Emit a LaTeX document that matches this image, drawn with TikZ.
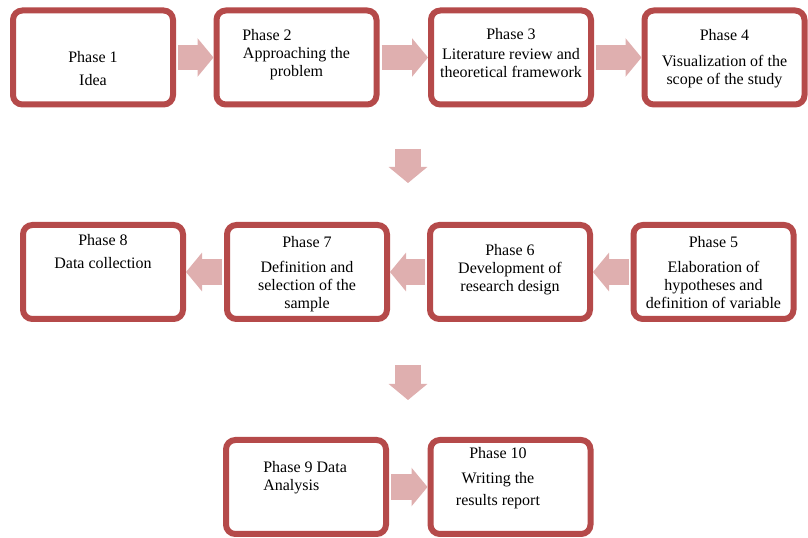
\documentclass[tikz,border=0pt]{standalone}
\usepackage{fontspec}
\setmainfont{Liberation Serif}
\usepackage{tikz}
\usetikzlibrary{arrows.meta}
\definecolor{phasered}{RGB}{181,74,74}
\definecolor{flowpink}{RGB}{223,175,175}
\tikzset{
  phase/.style={rectangle, draw=phasered, fill=white, line width=4.5pt,
    rounded corners=7pt, minimum width=120pt, minimum height=70.5pt, inner sep=0pt},
  phasetext/.style={anchor=north, align=center, inner sep=0pt,
    font=\fontsize{12}{13.5}\selectfont},
  flow/.style={draw=flowpink, line width=19pt,
    -{Triangle[length=12pt, width=29pt, line width=0pt]}, shorten <=1.5pt}
}

\begin{document}
\begin{tikzpicture}[x=0.75pt, y=-0.75pt]
  \useasboundingbox (0,0) rectangle (808,538);

  % Row 1: phases 1 to 4
  \node[phase] (p1) at (93,57.5) {};
  \node[phase] (p2) at (296.5,57.5) {};
  \node[phase] (p3) at (511,57.5) {};
  \node[phase] (p4) at (724.5,57.5) {};

  % Row 2: phases 5 to 8 (right to left)
  \node[phase] (p5) at (713.5,272) {};
  \node[phase] (p6) at (510,272) {};
  \node[phase] (p7) at (307,272) {};
  \node[phase] (p8) at (103,272) {};

  % Row 3: phases 9 and 10
  \node[phase] (p9) at (306,487) {};
  \node[phase] (p10) at (510.5,487) {};

  % Texts
  \node[phasetext] (t1) at ([yshift=4.9pt]p1.center) {Phase 1\\[3.75pt]Idea};
  \node[phasetext] (t2) at ([yshift=21.4pt]p2.center) {Phase 2\phantom{ching the}\\Approaching the\\problem};
  \node[phasetext] (t3) at ([yshift=22.1pt]p3.center) {Phase 3\\[1.5pt]Literature review and\\theoretical framework};
  \node[phasetext] (t4) at ([yshift=21.4pt]p4.center) {Phase 4\\[6pt]Visualization of the\\scope of the study};
  \node[phasetext] (t5) at ([yshift=27pt]p5.center) {Phase 5\\[5.25pt]Elaboration of\\hypotheses and\\definition of variable};
  \node[phasetext] (t6) at ([yshift=21pt]p6.center) {Phase 6\\Development of\\research design};
  \node[phasetext] (t7) at ([yshift=27pt]p7.center) {Phase 7\\[5.25pt]Definition and\\selection of the\\sample};
  \node[phasetext] (t8) at ([yshift=28.5pt]p8.center) {Phase 8\\[3.75pt]Data collection};
  \node[phasetext, anchor=north west, align=left] (t9) at ([xshift=-32.2pt, yshift=19.5pt]p9.center) {Phase 9 Data\\Analysis};
  \node[phasetext] (t10) at ([xshift=-9.4pt, yshift=30pt]p10.center) {Phase 10\\[5.25pt]Writing the\\[3pt]results report};

  % Block arrows
  \draw[flow] (p1) -- (p2);
  \draw[flow] (p2) -- (p3);
  \draw[flow] (p3) -- (p4);
  \coordinate (d1a) at (408,147);
  \coordinate (d1b) at (408,183);
  \draw[flow] (d1a) -- (d1b);
  \draw[flow] (p5) -- (p6);
  \draw[flow] (p6) -- (p7);
  \draw[flow] (p7) -- (p8);
  \coordinate (d2a) at (408,363);
  \coordinate (d2b) at (408,400);
  \draw[flow] (d2a) -- (d2b);
  \draw[flow] (p9) -- (p10);
\end{tikzpicture}
\end{document}
